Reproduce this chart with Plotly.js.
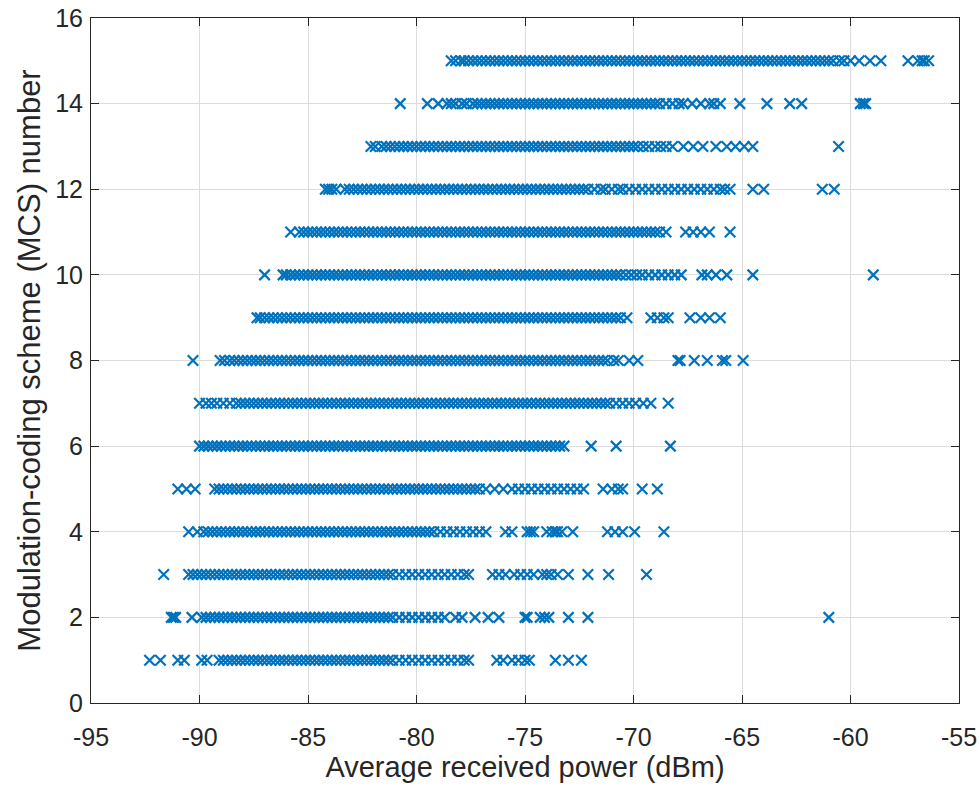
<!DOCTYPE html>
<html>
<head>
<meta charset="utf-8">
<script src="https://cdn.plot.ly/plotly-3.0.1.min.js"></script>
<style>html,body{margin:0;padding:0;background:#fff;}#chart{width:979px;height:788px;}</style>
</head>
<body>
<div id="chart"></div>
<script>
// MCS levels (y categories)
const mcsLevels = [1,2,3,4,5,6,7,8,9,10,11,12,13,14,15];
const xTickVals = [-95,-90,-85,-80,-75,-70,-65,-60,-55];
const xTickText = ['-95','-90','-85','-80','-75','-70','-65','-60','-55'];
const yTickVals = [0,2,4,6,8,10,12,14,16];
const yTickText = ['0','2','4','6','8','10','12','14','16'];

const power_mcs1 = [-92.3,-91.8,-91.0,-90.7,-89.9,-89.65,
-89.1,-88.9,-88.7,-88.5,-88.3,-88.1,-87.9,-87.7,-87.5,-87.3,-87.1,-86.9,-86.7,-86.5,-86.3,-86.1,-85.9,-85.7,-85.5,-85.3,-85.1,-84.9,-84.7,-84.5,-84.3,-84.1,-83.9,-83.7,-83.5,-83.3,-83.1,-82.9,-82.7,-82.5,-82.3,-82.1,-81.9,-81.7,-81.5,-81.3,-81.1,
-80.8,-80.5,-80.2,-79.9,-79.6,-79.3,-79.0,-78.7,-78.4,-78.1,-77.8,-77.6,
-76.3,-76.0,-75.6,-75.3,-75.0,-74.8,-73.6,-73.0,-72.4];
const power_mcs2 = [-91.3,-91.2,-91.1,-90.35,
-89.9,-89.7,-89.5,-89.3,-89.1,-88.9,-88.7,-88.5,-88.3,-88.1,-87.9,-87.7,-87.5,-87.3,-87.1,-86.9,-86.7,-86.5,-86.3,-86.1,-85.9,-85.7,-85.5,-85.3,-85.1,-84.9,-84.7,-84.5,-84.3,-84.1,-83.9,-83.7,-83.5,-83.3,-83.1,-82.9,-82.7,-82.5,-82.3,-82.1,-81.9,-81.7,-81.5,-81.3,-81.1,
-80.8,-80.5,-80.2,-79.9,-79.6,-79.3,
-79.0,-78.7,-78.2,-77.9,-77.3,-76.7,-76.2,-75.0,-74.9,-74.3,-74.1,-73.9,-73.0,-72.1,-61.0];
const power_mcs3 = [-91.65,
-90.5,-90.3,-90.1,-89.9,-89.7,-89.5,-89.3,-89.1,-88.9,-88.7,-88.5,-88.3,-88.1,-87.9,-87.7,-87.5,-87.3,-87.1,-86.9,-86.7,-86.5,-86.3,-86.1,-85.9,-85.7,-85.5,-85.3,-85.1,-84.9,-84.7,-84.5,-84.3,-84.1,-83.9,-83.7,-83.5,-83.3,-83.1,-82.9,-82.7,-82.5,-82.3,-82.1,-81.9,-81.7,-81.5,-81.3,-81.1,
-80.8,-80.5,-80.2,-79.9,-79.6,-79.3,-79.0,-78.7,-78.4,-78.1,-77.8,-77.6,
-76.5,-76.2,-75.9,-75.5,-75.2,-74.9,-74.6,-74.2,-74.0,-73.8,-73.5,-73.0,-72.1,-71.15,-69.4];
const power_mcs4 = [-90.5,-90.1,-89.8,-89.6,
-89.4,-89.2,-89,-88.8,-88.6,-88.4,-88.2,-88,-87.8,-87.6,-87.4,-87.2,-87,-86.8,-86.6,-86.4,-86.2,-86,-85.8,-85.6,-85.4,-85.2,-85,-84.8,-84.6,-84.4,-84.2,-84,-83.8,-83.6,-83.4,-83.2,-83,-82.8,-82.6,-82.4,-82.2,-82,-81.8,-81.6,-81.4,-81.2,-81,-80.8,-80.6,-80.4,-80.2,-80,-79.8,-79.6,-79.4,-79.2,
-78.9,-78.6,-78.3,-78.0,-77.7,-77.4,-77.1,-76.8,
-75.9,-75.6,-74.9,-74.75,-74.6,-74.0,-73.75,-73.6,-73.5,-73.3,-72.8,-71.2,-70.85,-70.5,-69.95,-68.6];
const power_mcs5 = [-91.0,-90.6,-90.2,-89.3,
-89.1,-88.9,-88.7,-88.5,-88.3,-88.1,-87.9,-87.7,-87.5,-87.3,-87.1,-86.9,-86.7,-86.5,-86.3,-86.1,-85.9,-85.7,-85.5,-85.3,-85.1,-84.9,-84.7,-84.5,-84.3,-84.1,-83.9,-83.7,-83.5,-83.3,-83.1,-82.9,-82.7,-82.5,-82.3,-82.1,-81.9,-81.7,-81.5,-81.3,-81.1,-80.9,-80.7,-80.5,-80.3,-80.1,-79.9,-79.7,-79.5,-79.3,-79.1,-78.9,-78.7,-78.5,-78.3,-78.1,-77.9,-77.7,-77.5,-77.3,-77.1,
-76.8,-76.4,-76.0,-75.6,-75.3,-75.0,-74.7,-74.4,-74.1,-73.8,-73.5,-73.2,-72.9,-72.6,-72.3,-71.4,-71.0,-70.7,-70.5,-69.6,-68.9];
const power_mcs6 = [-90.0,-89.8,
-89.6,-89.4,-89.2,-89,-88.8,-88.6,-88.4,-88.2,-88,-87.8,-87.6,-87.4,-87.2,-87,-86.8,-86.6,-86.4,-86.2,-86,-85.8,-85.6,-85.4,-85.2,-85,-84.8,-84.6,-84.4,-84.2,-84,-83.8,-83.6,-83.4,-83.2,-83,-82.8,-82.6,-82.4,-82.2,-82,-81.8,-81.6,-81.4,-81.2,-81,-80.8,-80.6,-80.4,-80.2,-80,-79.8,-79.6,-79.4,-79.2,-79,-78.8,-78.6,-78.4,-78.2,-78,-77.8,-77.6,-77.4,-77.2,-77,-76.8,-76.6,-76.4,-76.2,-76,-75.8,-75.6,-75.4,-75.2,-75,-74.8,-74.6,-74.4,-74.2,-74,
-73.8,-73.6,-73.4,-73.2,-71.95,-70.8,-68.3];
const power_mcs7 = [-90.0,-89.7,-89.45,-89.2,-88.9,-88.6,-88.3,-88.1,
-87.9,-87.7,-87.5,-87.3,-87.1,-86.9,-86.7,-86.5,-86.3,-86.1,-85.9,-85.7,-85.5,-85.3,-85.1,-84.9,-84.7,-84.5,-84.3,-84.1,-83.9,-83.7,-83.5,-83.3,-83.1,-82.9,-82.7,-82.5,-82.3,-82.1,-81.9,-81.7,-81.5,-81.3,-81.1,-80.9,-80.7,-80.5,-80.3,-80.1,-79.9,-79.7,-79.5,-79.3,-79.1,-78.9,-78.7,-78.5,-78.3,-78.1,-77.9,-77.7,-77.5,-77.3,-77.1,-76.9,-76.7,-76.5,-76.3,-76.1,-75.9,-75.7,-75.5,-75.3,-75.1,-74.9,-74.7,-74.5,-74.3,-74.1,-73.9,-73.7,-73.5,-73.3,-73.1,-72.9,-72.7,-72.5,-72.3,-72.1,-71.9,-71.7,-71.5,-71.3,-71.1,
-70.8,-70.5,-70.2,-69.9,-69.55,-69.2,-68.4];
const power_mcs8 = [-90.3,-89.05,-88.85,
-88.6,-88.4,-88.2,-88,-87.8,-87.6,-87.4,-87.2,-87,-86.8,-86.6,-86.4,-86.2,-86,-85.8,-85.6,-85.4,-85.2,-85,-84.8,-84.6,-84.4,-84.2,-84,-83.8,-83.6,-83.4,-83.2,-83,-82.8,-82.6,-82.4,-82.2,-82,-81.8,-81.6,-81.4,-81.2,-81,-80.8,-80.6,-80.4,-80.2,-80,-79.8,-79.6,-79.4,-79.2,-79,-78.8,-78.6,-78.4,-78.2,-78,-77.8,-77.6,-77.4,-77.2,-77,-76.8,-76.6,-76.4,-76.2,-76,-75.8,-75.6,-75.4,-75.2,-75,-74.8,-74.6,-74.4,-74.2,-74,-73.8,-73.6,-73.4,-73.2,-73,-72.8,-72.6,-72.4,-72.2,-72,-71.8,-71.6,-71.4,-71.2,
-70.9,-70.7,-70.2,-69.8,-67.95,-67.85,-67.2,-66.6,-65.9,-65.75,-64.95];
const power_mcs9 = [-87.35,-87.2,
-87,-86.8,-86.6,-86.4,-86.2,-86,-85.8,-85.6,-85.4,-85.2,-85,-84.8,-84.6,-84.4,-84.2,-84,-83.8,-83.6,-83.4,-83.2,-83,-82.8,-82.6,-82.4,-82.2,-82,-81.8,-81.6,-81.4,-81.2,-81,-80.8,-80.6,-80.4,-80.2,-80,-79.8,-79.6,-79.4,-79.2,-79,-78.8,-78.6,-78.4,-78.2,-78,-77.8,-77.6,-77.4,-77.2,-77,-76.8,-76.6,-76.4,-76.2,-76,-75.8,-75.6,-75.4,-75.2,-75,-74.8,-74.6,-74.4,-74.2,-74,-73.8,-73.6,-73.4,-73.2,-73,-72.8,-72.6,-72.4,-72.2,-72,-71.8,-71.6,-71.4,-71.2,-71,-70.8,-70.6,
-70.3,-69.2,-68.9,-68.6,-68.4,-67.4,-66.9,-66.5,-66.0];
const power_mcs10 = [-87.0,-86.15,-86.0,
-85.8,-85.6,-85.4,-85.2,-85,-84.8,-84.6,-84.4,-84.2,-84,-83.8,-83.6,-83.4,-83.2,-83,-82.8,-82.6,-82.4,-82.2,-82,-81.8,-81.6,-81.4,-81.2,-81,-80.8,-80.6,-80.4,-80.2,-80,-79.8,-79.6,-79.4,-79.2,-79,-78.8,-78.6,-78.4,-78.2,-78,-77.8,-77.6,-77.4,-77.2,-77,-76.8,-76.6,-76.4,-76.2,-76,-75.8,-75.6,-75.4,-75.2,-75,-74.8,-74.6,-74.4,-74.2,-74,-73.8,-73.6,-73.4,-73.2,-73,-72.8,-72.6,-72.4,-72.2,-72,-71.8,-71.6,-71.4,-71.2,-71,-70.8,-70.6,
-70.35,-70.1,-69.85,-69.6,-69.3,-69.0,-68.7,-68.4,-68.1,-67.8,
-66.85,-66.6,-66.2,-65.7,-64.5,-58.95];
const power_mcs11 = [-85.8,
-85.4,-85.2,-85,-84.8,-84.6,-84.4,-84.2,-84,-83.8,-83.6,-83.4,-83.2,-83,-82.8,-82.6,-82.4,-82.2,-82,-81.8,-81.6,-81.4,-81.2,-81,-80.8,-80.6,-80.4,-80.2,-80,-79.8,-79.6,-79.4,-79.2,-79,-78.8,-78.6,-78.4,-78.2,-78,-77.8,-77.6,-77.4,-77.2,-77,-76.8,-76.6,-76.4,-76.2,-76,-75.8,-75.6,-75.4,-75.2,-75,-74.8,-74.6,-74.4,-74.2,-74,-73.8,-73.6,-73.4,-73.2,-73,-72.8,-72.6,-72.4,-72.2,-72,-71.8,-71.6,-71.4,-71.2,-71,-70.8,-70.6,-70.4,-70.2,-70,-69.8,-69.6,-69.4,-69.2,-69,-68.8,
-68.5,-67.6,-67.25,-66.9,-66.5,-65.55];
const power_mcs12 = [-84.2,-84.05,-83.9,-83.7,-83.3,
-83.1,-82.9,-82.7,-82.5,-82.3,-82.1,-81.9,-81.7,-81.5,-81.3,-81.1,-80.9,-80.7,-80.5,-80.3,-80.1,-79.9,-79.7,-79.5,-79.3,-79.1,-78.9,-78.7,-78.5,-78.3,-78.1,-77.9,-77.7,-77.5,-77.3,-77.1,-76.9,-76.7,-76.5,-76.3,-76.1,-75.9,-75.7,-75.5,-75.3,-75.1,-74.9,-74.7,-74.5,-74.3,-74.1,-73.9,-73.7,-73.5,-73.3,-73.1,-72.9,-72.7,-72.5,-72.3,-72.1,
-71.8,-71.5,-71.3,-71.0,-70.7,-70.5,-70.2,-69.9,-69.6,-69.3,-69.0,-68.7,-68.4,-68.1,-67.8,-67.5,-67.2,-66.9,-66.6,-66.3,-66.0,-65.8,-65.55,
-64.5,-64.0,-61.3,-60.75];
const power_mcs13 = [-82.1,-81.9,-81.6,-81.4,-81.2,
-81,-80.8,-80.6,-80.4,-80.2,-80,-79.8,-79.6,-79.4,-79.2,-79,-78.8,-78.6,-78.4,-78.2,-78,-77.8,-77.6,-77.4,-77.2,-77,-76.8,-76.6,-76.4,-76.2,-76,-75.8,-75.6,-75.4,-75.2,-75,-74.8,-74.6,-74.4,-74.2,-74,-73.8,-73.6,-73.4,-73.2,-73,-72.8,-72.6,-72.4,-72.2,-72,-71.8,-71.6,-71.4,-71.2,-71,-70.8,-70.6,-70.4,-70.2,-70,-69.8,
-69.55,-69.3,-69.0,-68.75,-68.5,-68.2,-67.7,-67.25,-66.8,-66.2,-65.7,-65.3,-64.9,-64.5,-60.55];
const power_mcs14 = [-80.75,-79.5,-79.0,-78.6,-78.4,-78.2,-77.9,-77.7,
-77.4,-77.2,-77,-76.8,-76.6,-76.4,-76.2,-76,-75.8,-75.6,-75.4,-75.2,-75,-74.8,-74.6,-74.4,-74.2,-74,-73.8,-73.6,-73.4,-73.2,-73,-72.8,-72.6,-72.4,-72.2,-72,-71.8,-71.6,-71.4,-71.2,-71,-70.8,-70.6,-70.4,-70.2,-70,-69.8,-69.6,-69.4,-69.2,-69,-68.8,
-68.5,-68.2,-67.9,-67.7,-67.3,-66.9,-66.5,-66.3,-66.0,-65.1,-63.85,-62.8,-62.25,-59.55,-59.4,-59.3];
const power_mcs15 = [-78.4,-78.2,-77.95,-77.8,
-77.6,-77.4,-77.2,-77,-76.8,-76.6,-76.4,-76.2,-76,-75.8,-75.6,-75.4,-75.2,-75,-74.8,-74.6,-74.4,-74.2,-74,-73.8,-73.6,-73.4,-73.2,-73,-72.8,-72.6,-72.4,-72.2,-72,-71.8,-71.6,-71.4,-71.2,-71,-70.8,-70.6,-70.4,-70.2,-70,-69.8,-69.6,-69.4,-69.2,-69,-68.8,-68.6,-68.4,-68.2,-68,-67.8,-67.6,-67.4,-67.2,-67,-66.8,-66.6,-66.4,-66.2,-66,-65.8,-65.6,-65.4,-65.2,-65,-64.8,-64.6,-64.4,-64.2,-64,-63.8,-63.6,-63.4,-63.2,-63,-62.8,-62.6,-62.4,-62.2,-62,-61.8,-61.6,-61.4,-61.2,-61,-60.8,
-60.5,-60.3,-60.0,-59.6,-59.1,-58.6,-57.35,-56.9,-56.7,-56.6,-56.4];

const powerByMcs = [power_mcs1,power_mcs2,power_mcs3,power_mcs4,power_mcs5,power_mcs6,power_mcs7,power_mcs8,
  power_mcs9,power_mcs10,power_mcs11,power_mcs12,power_mcs13,power_mcs14,power_mcs15];

const xs = [], ys = [];
mcsLevels.forEach((m, i) => { powerByMcs[i].forEach(p => { xs.push(p); ys.push(m); }); });

const blue = '#0072BD';
const axisColor = '#262626';
const fontFam = '"Liberation Sans", Arial, Helvetica, sans-serif';

const trace = {
  type: 'scatter', mode: 'markers', x: xs, y: ys,
  marker: {symbol: 'x-thin', size: 10.5, color: blue, line: {color: blue, width: 2.2}},
  hoverinfo: 'x+y', showlegend: false
};

const axisCommon = {
  showgrid: true, gridcolor: '#dcdcdc', gridwidth: 1,
  showline: true, linecolor: axisColor, linewidth: 1, mirror: 'ticks',
  ticks: 'inside', ticklen: 8, tickwidth: 1, tickcolor: axisColor,
  zeroline: false, automargin: false, tickmode: 'array',
  ticklabeloverflow: 'allow',
  tickfont: {family: fontFam, size: 25, color: axisColor}
};

const layout = {
  width: 979, height: 788,
  margin: {l: 91, r: 20, t: 18, b: 85},
  paper_bgcolor: '#ffffff', plot_bgcolor: '#ffffff',
  xaxis: Object.assign({}, axisCommon, {
    range: [-95, -55], tickvals: xTickVals, ticktext: xTickText, ticklabelstandoff: 12,
    title: {text: 'Average received power (dBm)', font: {family: fontFam, size: 29, color: axisColor}, standoff: 4}
  }),
  yaxis: Object.assign({}, axisCommon, {
    range: [0, 16], tickvals: yTickVals, ticktext: yTickText, ticklabelstandoff: 2,
    title: {text: 'Modulation-coding scheme (MCS) number', font: {family: fontFam, size: 31, color: axisColor}, standoff: 5}
  })
};

Plotly.newPlot('chart', [trace], layout, {displayModeBar: false, staticPlot: true});
</script>
</body>
</html>
